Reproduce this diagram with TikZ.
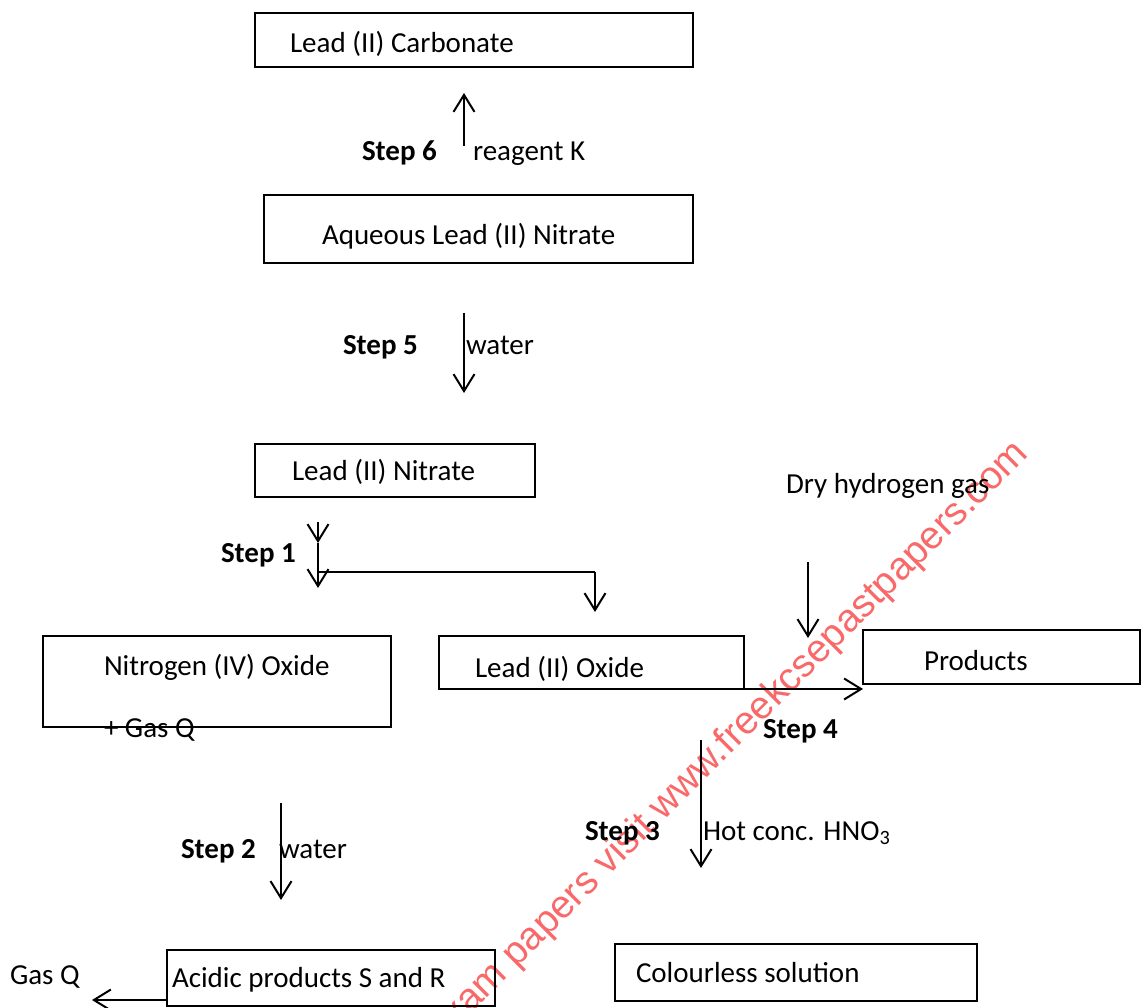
\documentclass[tikz,border=0pt]{standalone}
\usepackage{fontspec}
\setmainfont{Carlito}
\newfontfamily\wmfont{Liberation Sans}
\usetikzlibrary{arrows.meta,calc}
\definecolor{wmred}{RGB}{250,105,105}
\tikzset{
  box/.style={draw=black, line width=2pt, rectangle, inner sep=0pt, outer sep=0pt, anchor=north west},
  txt/.style={inner sep=0pt, outer sep=0pt, anchor=base west, font=\fontsize{29}{34}\selectfont},
  steplbl/.style={txt, font=\fontsize{29}{34}\selectfont\bfseries},
  arr/.style={line width=2pt, -{Straight Barb[length=17pt,width=21pt,line width=2pt]}},
  ln/.style={line width=2pt},
  wm/.style={inner sep=0pt, outer sep=0pt, text=wmred, font=\wmfont\fontsize{39}{44}\selectfont}
}
\begin{document}
\begin{tikzpicture}[x=1pt,y=-1pt]
\useasboundingbox (0,0) rectangle (1143,1008);
\fill[white] (0,0) rectangle (1143,1008);
% watermark
\begin{scope}
\clip (0,0) rectangle (1143,1008);
\node[wm, rotate=45, anchor=base east] (wmk) at (1030,455) {For more exam papers visit www.freekcsepastpapers.com};
\end{scope}
% boxes
\node[box, minimum width=438pt, minimum height=54pt] (lc) at (255,13) {};
\node[box, minimum width=429pt, minimum height=68pt] (aq) at (264,195) {};
\node[box, minimum width=280pt, minimum height=53pt] (lnit) at (255,444) {};
\node[box, minimum width=348pt, minimum height=91pt] (no) at (43,636) {};
\node[box, minimum width=305pt, minimum height=53pt] (lo) at (439,636) {};
\node[box, minimum width=277pt, minimum height=54pt] (pr) at (863,630) {};
\node[box, minimum width=328pt, minimum height=56pt] (ac) at (167,950) {};
\node[box, minimum width=362pt, minimum height=57pt] (cs) at (615,944) {};
% texts
\node[txt] (lct) at (290,53) {Lead (II) Carbonate};
\node[steplbl] (s6) at (362,161) {Step 6};
\node[txt] (rk) at (473,161) {reagent K};
\node[txt] (aqt) at (322,245) {Aqueous Lead (II) Nitrate};
\node[steplbl] (s5) at (343,354) {Step 5};
\node[txt] (w1) at (466,354) {water};
\node[txt] (lnt) at (292,480) {Lead (II) Nitrate};
\node[txt] (dh) at (786,493) {Dry hydrogen gas};
\node[steplbl] (s1) at (221,562) {Step 1};
\node[txt] (not) at (104,675) {Nitrogen (IV) Oxide};
\node[txt] (gq1) at (104,737) {+ Gas Q};
\node[txt] (lot) at (475,677) {Lead (II) Oxide};
\node[txt] (prt) at (924,670) {Products};
\node[steplbl] (s4) at (763,738) {Step 4};
\node[steplbl] (s3) at (585,840) {Step 3};
\node[txt] (hno) at (703,840) {Hot conc. HNO\textsubscript{3}};
\node[steplbl] (s2) at (181,858) {Step 2};
\node[txt] (w2) at (279,858) {water};
\node[txt] (gq2) at (10,984) {Gas Q};
\node[txt] (act) at (172,987) {Acidic products S and R};
\node[txt] (cst) at (636,982) {Colourless solution};
% connector coordinates
\coordinate (a6s) at (464,146);
\coordinate (a6e) at (464,93);
\coordinate (a5s) at (464,313);
\coordinate (a5e) at (464,393);
\coordinate (a1s) at (318,522);
\coordinate (a1m) at (318,543);
\coordinate (a1e) at (318,588);
\coordinate (a1j) at (318,572);
\coordinate (a1r) at (595,572);
\coordinate (a1re) at (595,612);
\coordinate (ahs) at (808,562);
\coordinate (ahe) at (808,638);
\coordinate (a3s) at (701,740);
\coordinate (a3e) at (701,868);
\coordinate (a2s) at (281,803);
\coordinate (a2e) at (281,900);
\coordinate (agq) at (167,1000);
\coordinate (agqe) at (92,1000);
% connectors
\draw[arr] (a6s) -- (a6e);
\draw[arr] (a5s) -- (a5e);
\draw[arr] (a1s) -- (a1m);
\draw[arr] (a1m) -- (a1e);
\draw[ln] (a1j) -- (a1r);
\draw[arr] (a1r) -- (a1re);
\draw[arr] (ahs) -- (ahe);
\draw[arr] (lo.south east) -- (lo.south east -| pr.west);
\draw[arr] (a3s) -- (a3e);
\draw[arr] (a2s) -- (a2e);
\draw[arr] (agq) -- (agqe);
\end{tikzpicture}
\end{document}
